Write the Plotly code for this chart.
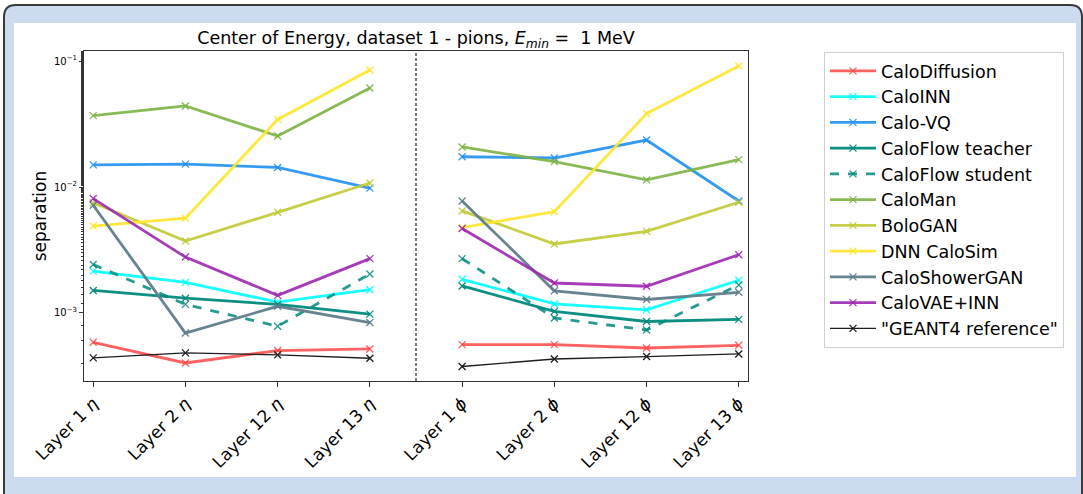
import plotly.graph_objects as go

W, H = 1083, 494
# plot area in pixels
L, R, T, B = 84, 748, 51, 381

layers_eta = ["Layer 1 <i>η</i>", "Layer 2 <i>η</i>", "Layer 12 <i>η</i>", "Layer 13 <i>η</i>"]
layers_phi = ["Layer 1 <i>ϕ</i>", "Layer 2 <i>ϕ</i>", "Layer 12 <i>ϕ</i>", "Layer 13 <i>ϕ</i>"]

models = ["CaloDiffusion", "CaloINN", "Calo-VQ", "CaloFlow teacher", "CaloFlow student",
          "CaloMan", "BoloGAN", "DNN CaloSim", "CaloShowerGAN", "CaloVAE+INN", "\"GEANT4 reference\""]

sep_eta = {
    "CaloDiffusion": [0.000585, 0.000401, 0.000503, 0.000518],
    "CaloINN": [0.00215, 0.00175, 0.00122, 0.00153],
    "Calo-VQ": [0.0150, 0.0152, 0.0143, 0.0098],
    "CaloFlow teacher": [0.00151, 0.00131, 0.00117, 0.00098],
    "CaloFlow student": [0.00243, 0.00117, 0.000785, 0.00204],
    "CaloMan": [0.0369, 0.0440, 0.0254, 0.0611],
    "BoloGAN": [0.0075, 0.00373, 0.0063, 0.01076],
    "DNN CaloSim": [0.0049, 0.00565, 0.0344, 0.0850],
    "CaloShowerGAN": [0.00716, 0.000693, 0.00113, 0.00084],
    "CaloVAE+INN": [0.0081, 0.00278, 0.00138, 0.0027],
    "\"GEANT4 reference\"": [0.00044, 0.000482, 0.000465, 0.000437],
}
sep_phi = {
    "CaloDiffusion": [0.000561, 0.000561, 0.000527, 0.000554],
    "CaloINN": [0.00185, 0.00118, 0.00106, 0.00182],
    "Calo-VQ": [0.0174, 0.0170, 0.0236, 0.00775],
    "CaloFlow teacher": [0.00164, 0.00103, 0.000856, 0.00089],
    "CaloFlow student": [0.0027, 0.000912, 0.000733, 0.00167],
    "CaloMan": [0.0208, 0.0159, 0.0114, 0.0165],
    "BoloGAN": [0.00646, 0.00353, 0.00445, 0.00757],
    "DNN CaloSim": [0.00476, 0.00638, 0.0383, 0.0913],
    "CaloShowerGAN": [0.00775, 0.0015, 0.00128, 0.00146],
    "CaloVAE+INN": [0.00468, 0.00173, 0.00163, 0.0029],
    "\"GEANT4 reference\"": [0.000376, 0.000431, 0.000451, 0.000473],
}

colors = {
    "CaloDiffusion": "rgba(255,70,70,0.85)",
    "CaloINN": "rgba(0,255,255,0.9)",
    "Calo-VQ": "rgba(30,144,240,0.9)",
    "CaloFlow teacher": "rgba(0,137,123,0.95)",
    "CaloFlow student": "rgba(0,137,123,0.85)",
    "CaloMan": "rgba(124,179,66,0.9)",
    "BoloGAN": "rgba(192,202,51,0.9)",
    "DNN CaloSim": "rgba(255,230,40,0.9)",
    "CaloShowerGAN": "rgba(96,125,139,0.95)",
    "CaloVAE+INN": "rgba(156,39,176,0.9)",
    "\"GEANT4 reference\"": "rgba(30,30,30,1)",
}

fig = go.Figure()
for m in models:
    dash = "dash" if m == "CaloFlow student" else "solid"
    width = 1.3 if "GEANT4" in m else 2.8
    for i, (xs, ys) in enumerate([(layers_eta, sep_eta[m]), (layers_phi, sep_phi[m])]):
        fig.add_trace(go.Scatter(
            x=xs, y=ys, mode="lines+markers", name=m, legendgroup=m,
            showlegend=(i == 0),
            line=dict(color=colors[m], width=width, dash=dash),
            marker=dict(symbol="x-thin-open", size=7, line=dict(color=colors[m], width=1.3)),
        ))

def px(x):
    return (x - L) / (R - L)

def py(y):
    return 1 - (y - T) / (B - T)

def rounded(x0, y0, x1, y1, r):
    X0, X1, Y0, Y1 = px(x0), px(x1), py(y0), py(y1)
    rx, ry = r / (R - L), r / (B - T)
    return (f"M {X0} {Y1} L {X0} {Y0 - ry} Q {X0} {Y0} {X0 + rx} {Y0} "
            f"L {X1 - rx} {Y0} Q {X1} {Y0} {X1} {Y0 - ry} L {X1} {Y1} Z")

shapes = [
    dict(type="path", xref="paper", yref="paper", path=rounded(4, 5, 1082, 505, 12),
         fillcolor="#cddbf1", line=dict(color="#3a3a3a", width=2), layer="below"),
    dict(type="rect", xref="paper", yref="paper", x0=px(14), x1=px(1076), y0=py(23), y1=py(477),
         fillcolor="white", line=dict(width=0), layer="below"),
    dict(type="line", xref="x", yref="paper", x0=3.5, x1=3.5, y0=0, y1=1,
         line=dict(color="black", width=1, dash="3px,2px")),
]

fig.update_layout(
    width=W, height=H,
    margin=dict(l=L, r=W - R, t=T, b=H - B),
    paper_bgcolor="white", plot_bgcolor="white",
    font=dict(family="DejaVu Sans", color="black", size=16),
    shapes=shapes,
    title=dict(text="Center of Energy, dataset 1 - pions, <i>E</i><sub><i>min</i></sub> =  1 MeV",
               x=px(416), xref="paper", xanchor="center", y=1 - 38 / H, yref="container",
               yanchor="middle", font=dict(size=17.5)),
    legend=dict(x=px(824), y=py(52), xanchor="left", yanchor="top",
                bordercolor="#d0d0d0", borderwidth=1, bgcolor="white",
                font=dict(size=17.5), itemwidth=46, tracegroupgap=0),
    showlegend=True,
)
fig.update_xaxes(
    type="category", categoryorder="array", categoryarray=layers_eta + layers_phi,
    range=[-0.1, 7.1], tickangle=-45, ticks="outside", ticklen=5, tickcolor="#333",
    showline=True, linecolor="#333", linewidth=1, mirror=True, showgrid=False,
    tickfont=dict(size=17),
)
fig.update_yaxes(
    type="log", range=[-3.54, -0.92],
    tickvals=[1e-3, 1e-2, 1e-1], ticktext=["10<sup>−3</sup>", "10<sup>−2</sup>", "10<sup>−1</sup>"],
    ticks="outside", ticklen=4, tickcolor="#333", tickfont=dict(size=10),
    minor=dict(ticks="outside", ticklen=2, tickcolor="#333", showgrid=False),
    showline=True, linecolor="#333", linewidth=1, mirror=True, showgrid=False,
    title=dict(text="separation", font=dict(size=17), standoff=2),
)

fig.write_html("out.html")
